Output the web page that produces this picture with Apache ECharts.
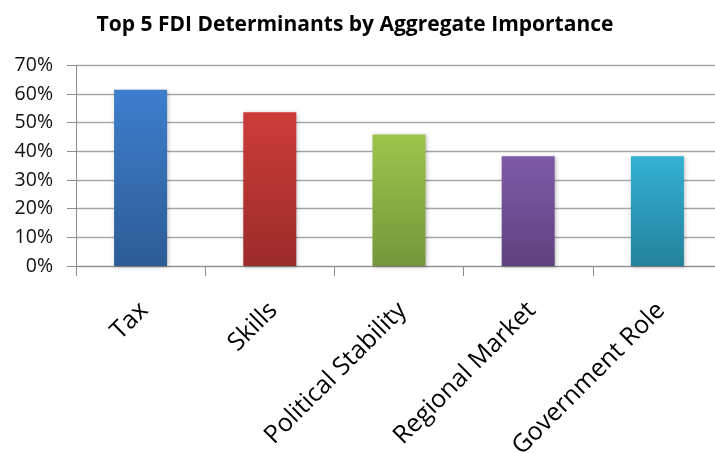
<!DOCTYPE html>
<html>
<head>
<meta charset="utf-8">
<script src="https://cdn.jsdelivr.net/npm/echarts@6/dist/echarts.min.js"></script>
<style>html,body{margin:0;padding:0;background:#fff;}#c{width:715px;height:453px;}</style>
</head>
<body>
<div id="c"></div>
<script>
const titleText = 'Top 5 FDI Determinants by Aggregate Importance';
const categories = ['Tax', 'Skills', 'Political Stability', 'Regional Market', 'Government Role'];
const values = [61.5, 53.6, 45.9, 38.3, 38.3];
const yTicks = [0, 10, 20, 30, 40, 50, 60, 70];
const barTopColors = ['#3d7ecd', '#cc3c39', '#9ec44c', '#7e5ba9', '#34b1d5'];
const barBottomColors = ['#2d5c95', '#9b2c2a', '#75963a', '#5e437e', '#23829b'];

const chart = echarts.init(document.getElementById('c'), null, {renderer: 'canvas'});
const FONT = '"Open Sans", sans-serif';
chart.setOption({
  animation: false,
  backgroundColor: '#ffffff',
  title: {
    text: titleText,
    left: 350, top: 10, textAlign: 'center',
    textStyle: {fontFamily: FONT, fontWeight: 'bold', fontSize: 21, color: '#000'}
  },
  grid: {left: 76, top: 65.3, width: 646, height: 200.7, containLabel: false, outerBoundsMode: 'none'},
  xAxis: {
    type: 'category',
    data: categories,
    boundaryGap: true,
    axisLine: {show: true, lineStyle: {color: '#8c8c8c', width: 1}},
    axisTick: {show: true, length: 10, alignWithLabel: false, lineStyle: {color: '#8c8c8c'}},
    axisLabel: {
      rotate: 45, interval: 0, margin: 37, verticalAlign: 'top', lineHeight: 10,
      fontFamily: FONT, fontSize: 25, color: '#000'
    }
  },
  yAxis: {
    type: 'value',
    min: yTicks[0], max: yTicks[yTicks.length - 1], interval: 10,
    axisLine: {show: true, lineStyle: {color: '#8c8c8c', width: 1}},
    axisTick: {show: true, length: 9, lineStyle: {color: '#8c8c8c'}},
    splitLine: {show: true, lineStyle: {color: '#a6a6a6', width: 1.3}},
    axisLabel: {
      margin: 23, fontFamily: FONT, fontSize: 19.5, color: '#111',
      formatter: v => v + '%'
    }
  },
  series: [{
    type: 'bar',
    barWidth: 53,
    data: values.map((v, i) => ({
      value: v,
      itemStyle: {
        color: new echarts.graphic.LinearGradient(0, 0, 0, 1, [
          {offset: 0, color: barTopColors[i]},
          {offset: 1, color: barBottomColors[i]}
        ]),
        shadowColor: 'rgba(0,0,0,0.25)', shadowBlur: 4, shadowOffsetX: 1, shadowOffsetY: 1
      }
    }))
  }]
});
</script>
</body>
</html>
